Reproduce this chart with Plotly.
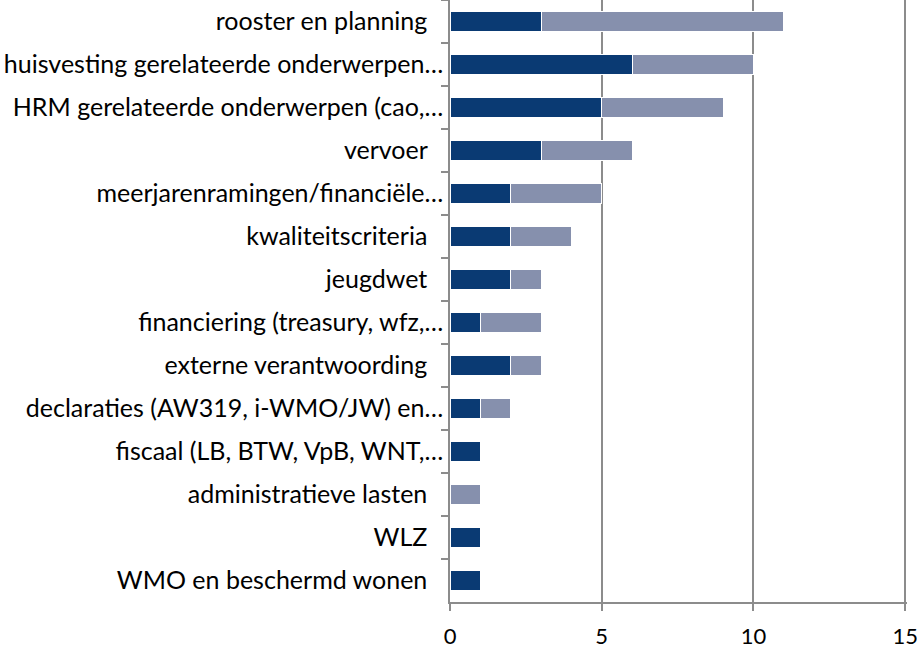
import plotly.graph_objects as go

PAD = "\u00a0\u00a0\u2009"

# categories top to bottom
categories = [
    "rooster en planning" + PAD,
    "huisvesting gerelateerde onderwerpen…",
    "HRM gerelateerde onderwerpen (cao,…",
    "vervoer" + PAD,
    "meerjarenramingen/financiële…",
    "kwaliteitscriteria" + PAD,
    "jeugdwet" + PAD,
    "financiering (treasury, wfz,…",
    "externe verantwoording" + PAD,
    "declaraties (AW319, i-WMO/JW) en…",
    "fiscaal (LB, BTW, VpB, WNT,…",
    "administratieve lasten" + PAD,
    "WLZ" + PAD,
    "WMO en beschermd wonen" + PAD,
]
series_dark = [3, 6, 5, 3, 2, 2, 2, 1, 2, 1, 1, 0, 1, 1]
series_light = [8, 4, 4, 3, 3, 2, 1, 2, 1, 1, 0, 1, 0, 0]
x_ticks = [0, 5, 10, 15]

DARK = "#0A3A73"
LIGHT = "#8690AD"
GRID = "#8C8C8C"

fig = go.Figure()
fig.add_trace(go.Bar(y=categories, x=series_dark, orientation="h",
                     marker=dict(color=DARK, line=dict(color="white", width=1)),
                     width=0.47, name="a"))
fig.add_trace(go.Bar(y=categories, x=series_light, orientation="h",
                     marker=dict(color=LIGHT, line=dict(color="white", width=1)),
                     width=0.47, name="b"))

fig.update_layout(
    barmode="stack",
    width=917, height=652,
    margin=dict(l=450, r=10, t=0, b=50, autoexpand=False),
    plot_bgcolor="white", paper_bgcolor="white",
    showlegend=False,
    font=dict(family="Lato", size=25, color="black"),
)
# range a bit past 15 so the last gridline still gets drawn
fig.update_xaxes(range=[0, 15.06], tickvals=x_ticks, showgrid=True,
                 gridcolor=GRID, gridwidth=1.5, zeroline=False, automargin=False,
                 showline=True, linecolor=GRID, linewidth=1.5,
                 ticks="outside", ticklen=7, tickcolor=GRID, tickwidth=1.5,
                 ticklabelstandoff=7, tickfont=dict(size=22),
                 ticklabeloverflow="allow")
fig.update_yaxes(autorange="reversed", showgrid=False, tickson="boundaries",
                 automargin=False,
                 showline=True, linecolor=GRID, linewidth=1.5,
                 ticks="outside", ticklen=7, tickcolor=GRID, tickwidth=1.5)

# page body has a default margin; drop it so the figure sits at the corner
fig.write_html("out.html", config={"displayModeBar": False},
               post_script="document.body.style.margin='0';")
